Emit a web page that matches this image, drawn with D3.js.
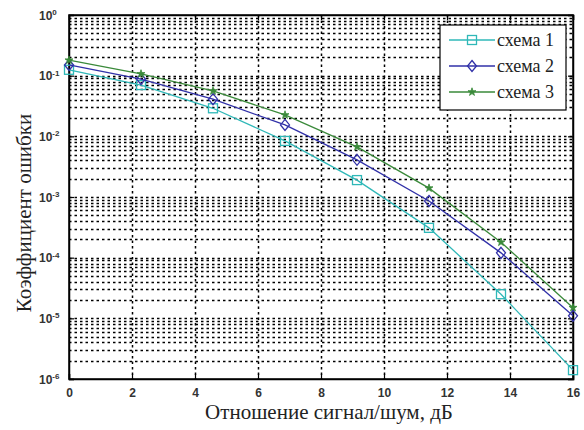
<!DOCTYPE html>
<html>
<head>
<meta charset="utf-8">
<script src="https://cdn.jsdelivr.net/npm/d3@7"></script>
<style>
  body { margin: 0; background: #fff; }
  svg { display: block; }
  .tick text { font-family: "Liberation Sans", Arial, sans-serif; }
</style>
</head>
<body>
<svg id="chart" width="584" height="430"></svg>
<script>
const snr = [0, 16 / 7, 32 / 7, 48 / 7, 64 / 7, 80 / 7, 96 / 7, 16]
const scheme1 = [0.125, 0.070, 0.029, 0.0084, 0.0019, 3.1e-4, 2.5e-5, 1.4e-6]
const scheme2 = [0.15, 0.088, 0.041, 0.0154, 0.0041, 8.6e-4, 1.2e-4, 1.1e-5]
const scheme3 = [0.18, 0.107, 0.056, 0.0225, 0.0067, 1.4e-3, 1.8e-4, 1.5e-5]
const seriesNames = ['схема 1', 'схема 2', 'схема 3']
const xTicks = [0, 2, 4, 6, 8, 10, 12, 14, 16]
const yExponents = [0, -1, -2, -3, -4, -5, -6]

const margin = { top: 15, right: 11, bottom: 51, left: 69 }
const W = 584, H = 430
const width = W - margin.left - margin.right
const height = H - margin.top - margin.bottom

const svg = d3.select('#chart')
const g = svg.append('g').attr('transform', `translate(${margin.left},${margin.top})`)

const x = d3.scaleLinear().domain([0, 16]).range([0, width])
const y = d3.scaleLog().domain([1e-6, 1]).range([height, 0])

// grid
const minor = []
for (let e = -6; e < 0; e++) for (let m = 2; m <= 9; m++) minor.push(m * Math.pow(10, e))
const grid = g.append('g').attr('stroke', '#000').attr('stroke-width', 1.5).attr('stroke-dasharray', '2.5,3')
grid.selectAll('.hg').data(minor.concat(yExponents.slice(1, -1).map(e => Math.pow(10, e))))
  .enter().append('line')
  .attr('x1', 0).attr('x2', width)
  .attr('y1', d => Math.round(y(d)) + 0.5).attr('y2', d => Math.round(y(d)) + 0.5)
grid.selectAll('.vg').data(xTicks.slice(1, -1))
  .enter().append('line')
  .attr('y1', 0).attr('y2', height)
  .attr('x1', d => Math.round(x(d)) + 0.5).attr('x2', d => Math.round(x(d)) + 0.5)

// axes
const xAxis = g.append('g').attr('transform', `translate(0,${height})`)
  .call(d3.axisBottom(x).tickValues(xTicks).tickSize(-5).tickPadding(9).tickFormat(d3.format('d')))
const yAxis = g.append('g')
  .call(d3.axisLeft(y).tickValues(yExponents.map(e => Math.pow(10, e))).tickSize(-5).tickFormat(''))
g.append('g').attr('transform', `translate(${width},0)`)
  .call(d3.axisRight(y).tickValues(yExponents.map(e => Math.pow(10, e))).tickSize(-5).tickFormat(''))
g.append('g')
  .call(d3.axisTop(x).tickValues(xTicks).tickSize(-5).tickFormat(''))
g.selectAll('.domain').attr('stroke', '#000').attr('stroke-width', 1.5)
g.selectAll('.tick line').attr('stroke', '#000').attr('stroke-width', 1.2)
xAxis.selectAll('text').attr('font-size', 12).attr('font-weight', 'bold').attr('fill', '#333')

yAxis.selectAll('.tick').each(function (d) {
  const t = d3.select(this).append('text')
    .attr('x', -30).attr('dy', '0.35em').attr('text-anchor', 'start')
    .attr('fill', '#333').attr('font-size', 12).attr('font-weight', 'bold')
  t.append('tspan').text('10')
  t.append('tspan').attr('dy', '-0.6em').attr('font-size', 8).text(Math.round(Math.log10(d)))
})

// box
g.append('rect').attr('width', width).attr('height', height)
  .attr('fill', 'none').attr('stroke', '#000').attr('stroke-width', 1.5)

// series
const series = [
  { name: seriesNames[0], values: scheme1, color: '#2fb8b8', marker: 'square' },
  { name: seriesNames[1], values: scheme2, color: '#3030a8', marker: 'diamond' },
  { name: seriesNames[2], values: scheme3, color: '#3a8a3a', marker: 'star' }
]

const line = d3.line().x(d => x(d[0])).y(d => y(d[1]))

function drawMarker(sel, type, color) {
  if (type === 'square') {
    sel.append('rect').attr('x', -4.5).attr('y', -4.5).attr('width', 9).attr('height', 9)
      .attr('fill', 'none').attr('stroke', color).attr('stroke-width', 1.3)
  } else if (type === 'diamond') {
    sel.append('path').attr('d', 'M0,-5.5L4.5,0L0,5.5L-4.5,0Z')
      .attr('fill', 'none').attr('stroke', color).attr('stroke-width', 1.3)
  } else {
    sel.append('path').attr('d', d3.symbol(d3.symbolStar, 20)())
      .attr('fill', color).attr('stroke', color).attr('stroke-width', 0.8)
  }
}

series.forEach(s => {
  const pts = snr.map((v, i) => [v, s.values[i]])
  g.append('path').datum(pts).attr('d', line)
    .attr('fill', 'none').attr('stroke', s.color).attr('stroke-width', 1.3)
  g.selectAll(null).data(pts).enter().append('g')
    .attr('transform', d => `translate(${x(d[0])},${y(d[1])})`)
    .each(function () { drawMarker(d3.select(this), s.marker, s.color) })
})

// legend
const legend = svg.append('g').attr('transform', 'translate(440,25)')
legend.append('rect').attr('width', 126).attr('height', 85)
  .attr('fill', '#fff').attr('stroke', '#000').attr('stroke-width', 1.2)
series.forEach((s, i) => {
  const row = legend.append('g').attr('transform', `translate(0,${15 + i * 26})`)
  row.append('line').attr('x1', 9).attr('x2', 55).attr('stroke', s.color).attr('stroke-width', 1.3)
  const m = row.append('g').attr('transform', 'translate(32,0)')
  drawMarker(m, s.marker, s.color)
  row.append('text').attr('x', 57).attr('dy', '0.35em')
    .attr('font-family', '"Liberation Serif", "Times New Roman", serif').attr('font-size', 18)
    .attr('fill', '#222').text(s.name)
})

// axis labels
svg.append('text').attr('x', margin.left + width / 2 + 8).attr('y', 419)
  .attr('text-anchor', 'middle')
  .attr('font-family', '"Liberation Serif", "Times New Roman", serif').attr('font-size', 21)
  .attr('fill', '#222').text('Отношение сигнал/шум, дБ')
svg.append('text').attr('transform', `translate(31,${margin.top + height / 2 + 16}) rotate(-90)`)
  .attr('text-anchor', 'middle')
  .attr('font-family', '"Liberation Serif", "Times New Roman", serif').attr('font-size', 21)
  .attr('fill', '#222').text('Коэффициент ошибки')
</script>
</body>
</html>
